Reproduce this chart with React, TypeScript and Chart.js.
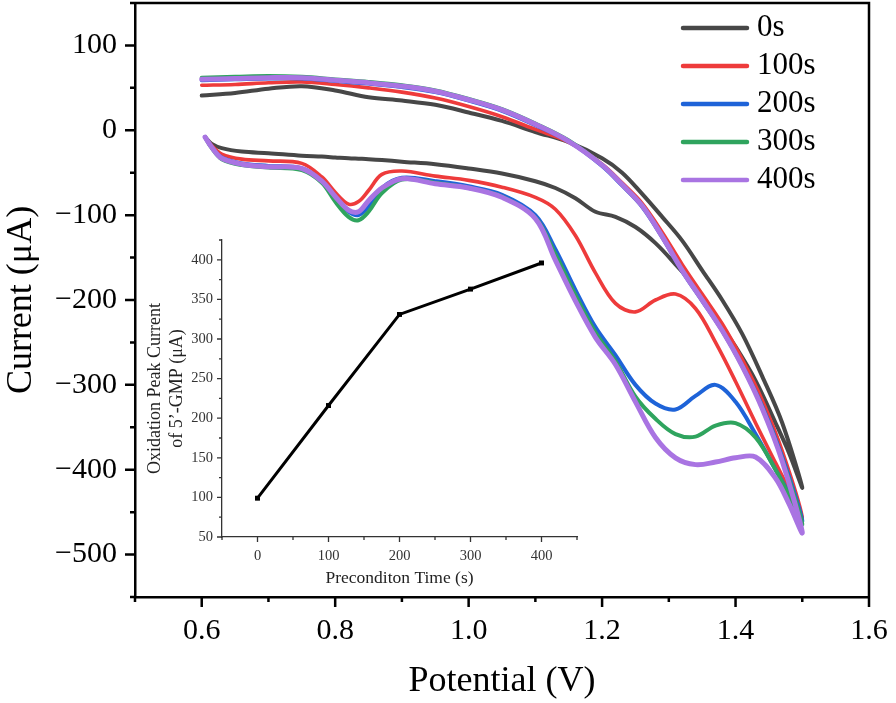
import React, { useEffect, useRef } from 'react';
import { Chart, registerables } from 'chart.js';

Chart.register(...registerables);

const SERIF = '"Liberation Serif", "Times New Roman", Times, serif';

// ---------- main CV data ----------
const seriesLabels = ['0s', '100s', '200s', '300s', '400s'];

// forward (lower) branch potentials, V
const lowerPotential = [0.605, 0.615, 0.63, 0.66, 0.7, 0.75, 0.78, 0.8, 0.82, 0.835, 0.85, 0.87, 0.9, 0.95, 1.0, 1.05, 1.1, 1.13, 1.16, 1.19, 1.22, 1.25, 1.28, 1.31, 1.34, 1.37, 1.4, 1.43, 1.46, 1.48, 1.5];
// reverse (upper) branch potentials, V
const upperPotential = [1.47, 1.44, 1.41, 1.38, 1.35, 1.32, 1.29, 1.26, 1.23, 1.2, 1.15, 1.1, 1.05, 1.0, 0.95, 0.9, 0.85, 0.8, 0.75, 0.7, 0.65, 0.6];

const lower0s = [-8, -16, -21, -25, -27, -30, -31, -32, -33, -33.5, -34, -35, -37, -40, -45, -51, -60, -68, -80, -96, -102, -114, -133, -158, -185, -220, -255, -295, -345, -380, -421];
const lower100s = [-8, -18, -28, -34, -36, -39, -55, -73, -87, -84, -71, -52, -48, -54, -59, -67, -79, -93, -124, -168, -204, -214, -200, -193, -210, -250, -296, -345, -392, -423, -456];
const lower200s = [-8, -20, -32, -39, -42, -45, -60, -80, -96, -100, -90, -68, -56, -60, -66, -76, -100, -140, -188, -232, -265, -300, -322, -329, -313, -300, -320, -358, -400, -428, -460];
const lower300s = [-8, -21, -34, -41, -44, -47, -62, -84, -102, -106, -96, -74, -58, -62, -68, -78, -103, -146, -194, -238, -272, -314, -340, -358, -361, -348, -345, -362, -400, -430, -464];
const lower400s = [-8, -20, -33, -40, -43, -45, -60, -78, -94, -96, -83, -68, -57, -63, -68, -79, -104, -153, -201, -244, -276, -320, -362, -386, -394, -391, -386, -385, -410, -440, -474];

const upper0s = [-345, -290, -240, -200, -165, -130, -102, -75, -50, -33, -14, -2, 11, 21, 30, 35, 39, 47, 52, 49, 44, 41];
const upper100s = [-378, -318, -270, -228, -193, -158, -120, -86, -62, -40, -14, 1, 16, 28, 38, 45, 50, 54, 57, 56, 54, 53];
const upper200s = [-385, -325, -277, -236, -201, -166, -126, -90, -65, -42, -13, 6, 23, 35, 45, 51, 55, 58, 61, 61, 60, 59];
const upper300s = [-388, -327, -278, -236, -200, -165, -125, -89, -64, -41, -12, 8, 25, 37, 47, 53, 57, 60, 63, 64, 63, 62];
const upper400s = [-390, -328, -278, -236, -200, -165, -125, -89, -64, -41, -13, 7, 24, 36, 46, 52, 56, 59, 62, 62, 61, 60];

const lowerCurrents = [lower0s, lower100s, lower200s, lower300s, lower400s];
const upperCurrents = [upper0s, upper100s, upper200s, upper300s, upper400s];

const potentialTickLabels = [0.6, 0.8, 1.0, 1.2, 1.4, 1.6];
const currentTickLabels = [-500, -400, -300, -200, -100, 0, 100];

// ---------- inset data ----------
const preconditionTime = [0, 100, 200, 300, 400];
const peakCurrent = [99, 216, 331, 363, 396];
const timeTickLabels = [0, 100, 200, 300, 400];
const peakTickLabels = [50, 100, 150, 200, 250, 300, 350, 400];

// ---------- styles ----------
const seriesColors = ['#474747', '#ee3b3b', '#1e63d8', '#2fa45e', '#a974e2'];
const seriesWidths = [4, 3.6, 4, 4, 5];

const tickMarks = {
  id: 'tickMarks',
  afterDraw(chart: any, _args: any, opts: any) {
    const { ctx, chartArea } = chart;
    const xs = chart.scales.x;
    const ys = chart.scales.y;
    ctx.save();
    ctx.strokeStyle = opts.color;
    ctx.lineWidth = opts.width;
    ctx.lineCap = 'butt';
    ctx.beginPath();
    xs.ticks.forEach((t: any, i: number) => {
      const px = xs.getPixelForTick(i);
      const len = t.label !== '' ? opts.major : opts.minor;
      ctx.moveTo(px, chartArea.bottom);
      ctx.lineTo(px, chartArea.bottom + len);
    });
    ys.ticks.forEach((t: any, i: number) => {
      const py = ys.getPixelForTick(i);
      const len = t.label !== '' ? opts.major : opts.minor;
      ctx.moveTo(chartArea.left, py);
      ctx.lineTo(chartArea.left - len, py);
    });
    ctx.stroke();
    if (opts.frame) {
      ctx.beginPath();
      ctx.moveTo(chartArea.left, chartArea.top);
      ctx.lineTo(chartArea.right, chartArea.top);
      ctx.lineTo(chartArea.right, chartArea.bottom);
      ctx.stroke();
    }
    ctx.restore();
  },
};

const insideLegend = {
  id: 'insideLegend',
  afterDraw(chart: any, _args: any, opts: any) {
    const { ctx, chartArea } = chart;
    ctx.save();
    chart.data.datasets.forEach((ds: any, i: number) => {
      const y = chartArea.top + opts.top + i * opts.spacing;
      const x0 = chartArea.right - opts.right;
      ctx.strokeStyle = ds.borderColor;
      ctx.lineWidth = opts.lineWidth;
      ctx.lineCap = 'round';
      ctx.beginPath();
      ctx.moveTo(x0, y);
      ctx.lineTo(x0 + opts.lineLength, y);
      ctx.stroke();
      ctx.fillStyle = '#000';
      ctx.font = `${opts.fontSize}px ${SERIF}`;
      ctx.textBaseline = 'middle';
      ctx.textAlign = 'left';
      ctx.fillText(ds.label, x0 + opts.lineLength + opts.gap, y);
    });
    ctx.restore();
  },
};

const isIn = (arr: number[], v: number) => arr.some((a) => Math.abs(a - v) < 1e-6);
const fmtMinus = (v: number) => (v < 0 ? '\u2212' + Math.abs(v) : String(v));

const fixX = (h: number) => (s: any) => {
  s.height = h;
  s.paddingLeft = 0;
  s.paddingRight = 0;
};
const fixY = (w: number) => (s: any) => {
  s.width = w;
  s.paddingTop = 0;
  s.paddingBottom = 0;
};

export default function App() {
  const mainRef = useRef<HTMLCanvasElement>(null);
  const insetRef = useRef<HTMLCanvasElement>(null);

  useEffect(() => {
    document.body.style.margin = '0';
    const datasets = seriesLabels.map((label, i) => ({
      label,
      data: [
        ...lowerPotential.map((v, k) => ({ x: v, y: lowerCurrents[i][k] })),
        ...upperPotential.map((v, k) => ({ x: v, y: upperCurrents[i][k] })),
      ],
      showLine: true,
      borderColor: seriesColors[i],
      backgroundColor: seriesColors[i],
      borderWidth: seriesWidths[i],
      pointRadius: 0,
      tension: 0.35,
      borderJoinStyle: 'round',
      borderCapStyle: 'round',
      fill: false,
      order: 4 - i,
    }));

    const main = new Chart(mainRef.current!, {
      type: 'scatter',
      data: { datasets: datasets as any },
      plugins: [tickMarks, insideLegend],
      options: {
        animation: false,
        responsive: false,
        devicePixelRatio: 1,
        layout: { padding: { top: 3, right: 27, left: 0, bottom: 0 } },
        plugins: {
          legend: { display: false },
          tooltip: { enabled: false },
          tickMarks: { color: '#000', width: 2.5, major: 10, minor: 5, frame: true },
          insideLegend: { top: 25, spacing: 38, right: 186, lineLength: 64, gap: 10, lineWidth: 4.5, fontSize: 31 },
        } as any,
        scales: {
          x: {
            type: 'linear',
            min: 0.5,
            max: 1.6,
            grid: { display: false, drawTicks: false },
            border: { display: true, color: '#000', width: 2.5 },
            ticks: {
              stepSize: 0.1,
              autoSkip: false,
              maxRotation: 0,
              padding: 16,
              color: '#000',
              font: { family: SERIF, size: 30 },
              callback: (v: any) => (isIn(potentialTickLabels, Number(v)) ? Number(v).toFixed(1) : ''),
            },
            title: {
              display: true,
              text: 'Potential (V)',
              color: '#000',
              font: { family: SERIF, size: 36, lineHeight: 1.2 },
              padding: { top: 0, bottom: 0 },
            },
            afterFit: fixX(106),
          },
          y: {
            type: 'linear',
            min: -550,
            max: 150,
            grid: { display: false, drawTicks: false },
            border: { display: true, color: '#000', width: 2.5 },
            ticks: {
              stepSize: 50,
              autoSkip: false,
              padding: 18,
              color: '#000',
              font: { family: SERIF, size: 30 },
              callback: (v: any) => (isIn(currentTickLabels, Number(v)) ? fmtMinus(Number(v)) : ''),
            },
            title: {
              display: true,
              text: 'Current (\u03bcA)',
              color: '#000',
              font: { family: SERIF, size: 36, lineHeight: 1.2 },
              padding: { top: 0, bottom: 0 },
            },
            afterFit: fixY(135),
          },
        },
      },
    });

    const inset = new Chart(insetRef.current!, {
      type: 'scatter',
      data: {
        datasets: [
          {
            label: 'Oxidation peak current',
            data: preconditionTime.map((t, i) => ({ x: t, y: peakCurrent[i] })),
            showLine: true,
            borderColor: '#000',
            backgroundColor: '#000',
            borderWidth: 3,
            pointStyle: 'rect',
            pointRadius: 3.5,
            pointBorderWidth: 0,
            tension: 0,
          } as any,
        ],
      },
      plugins: [tickMarks],
      options: {
        animation: false,
        responsive: false,
        devicePixelRatio: 1,
        layout: { padding: { top: 10, right: 13, left: 0, bottom: 0 } },
        plugins: {
          legend: { display: false },
          tooltip: { enabled: false },
          tickMarks: { color: '#333', width: 1.3, major: 5, minor: 3, frame: false },
        } as any,
        scales: {
          x: {
            type: 'linear',
            min: -50,
            max: 450,
            grid: { display: false, drawTicks: false },
            border: { display: true, color: '#333', width: 1.3 },
            ticks: {
              stepSize: 50,
              autoSkip: false,
              maxRotation: 0,
              padding: 10,
              color: '#333',
              font: { family: SERIF, size: 14.5 },
              callback: (v: any) => (isIn(timeTickLabels, Number(v)) ? String(v) : ''),
            },
            title: {
              display: true,
              text: 'Preconditon Time (s)',
              color: '#222',
              font: { family: SERIF, size: 17.5, lineHeight: 1.2 },
              padding: { top: 0, bottom: 11 },
            },
            afterFit: fixX(63),
          },
          y: {
            type: 'linear',
            min: 50,
            max: 425,
            grid: { display: false, drawTicks: false },
            border: { display: true, color: '#333', width: 1.3 },
            ticks: {
              stepSize: 25,
              autoSkip: false,
              padding: 9,
              color: '#333',
              font: { family: SERIF, size: 14.5 },
              callback: (v: any) => (isIn(peakTickLabels, Number(v)) ? String(v) : ''),
            },
            title: {
              display: true,
              text: ['Oxidation Peak Current', 'of 5\u2019-GMP (\u03bcA)'],
              color: '#222',
              font: { family: SERIF, size: 18, lineHeight: 1.25 },
              padding: { top: 4, bottom: 0 },
            },
            afterFit: fixY(82),
          },
        },
      },
    });

    return () => {
      main.destroy();
      inset.destroy();
    };
  }, []);

  return (
    <div style={{ position: 'absolute', left: 0, top: 0, width: 896, height: 703, background: '#fff' }}>
      <canvas ref={mainRef} width={896} height={703} style={{ position: 'absolute', left: 0, top: 0, display: 'block' }} />
      <canvas ref={insetRef} width={450} height={370} style={{ position: 'absolute', left: 140, top: 230, display: 'block' }} />
    </div>
  );
}
